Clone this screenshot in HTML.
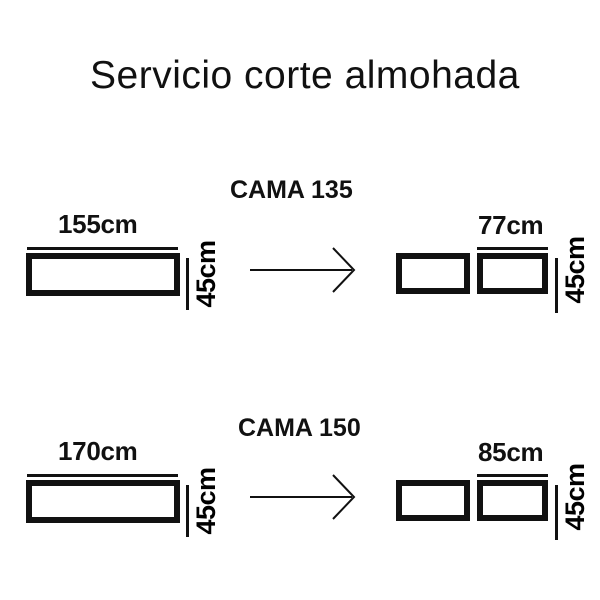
<!DOCTYPE html><html><head><style>
body{margin:0;width:600px;height:600px;background:#fff;position:relative;overflow:hidden;font-family:"Liberation Sans",sans-serif}
.t{position:absolute;white-space:nowrap}
.b{position:absolute;border:6px solid #111;box-sizing:border-box;background:#fff}
.l{position:absolute;background:#111}
.lbl{font-weight:bold;font-size:26px;color:#111;letter-spacing:-0.3px}
.v{position:absolute;font-weight:bold;font-size:27px;transform:rotate(-90deg);transform-origin:center;white-space:nowrap;text-align:center;letter-spacing:-0.5px}
</style></head><body>
<div class="t" style="left:90px;top:54px;font-size:39px;color:#111;letter-spacing:0.5px">Servicio corte almohada</div>

<div class="t lbl" style="left:230px;top:176px;font-size:25px;letter-spacing:0">CAMA 135</div>
<div class="t lbl" style="left:238px;top:414px;font-size:25px;letter-spacing:0">CAMA 150</div>

<div style="position:absolute;left:0;top:0;width:600px;height:300px">
<div class="t lbl" style="left:58px;top:209px">155cm</div>
<div class="l" style="left:27px;top:247px;width:151px;height:3px"></div>
<div class="b" style="left:26px;top:253px;width:154px;height:43px"></div>
<div class="l" style="left:186px;top:258px;width:3px;height:52px"></div>
<div class="v" style="left:166px;top:259px;width:80px;height:30px">45cm</div>
<div class="l" style="left:250px;top:269px;width:102px;height:2px"></div>
<svg style="position:absolute;left:330px;top:246px" width="28" height="50"><polyline points="3,2 24,24 3,46" fill="none" stroke="#111" stroke-width="2"/></svg>
<div class="b" style="left:396px;top:253px;width:74px;height:41px"></div>
<div class="b" style="left:477px;top:253px;width:71px;height:41px"></div>
<div class="t lbl" style="left:478px;top:210px">77cm</div>
<div class="l" style="left:477px;top:247px;width:71px;height:3px"></div>
<div class="l" style="left:555px;top:258px;width:3px;height:55px"></div>
<div class="v" style="left:535px;top:255px;width:80px;height:30px">45cm</div>
</div>
<div style="position:absolute;left:0;top:227px;width:600px;height:300px">
<div class="t lbl" style="left:58px;top:209px">170cm</div>
<div class="l" style="left:27px;top:247px;width:151px;height:3px"></div>
<div class="b" style="left:26px;top:253px;width:154px;height:43px"></div>
<div class="l" style="left:186px;top:258px;width:3px;height:52px"></div>
<div class="v" style="left:166px;top:259px;width:80px;height:30px">45cm</div>
<div class="l" style="left:250px;top:269px;width:102px;height:2px"></div>
<svg style="position:absolute;left:330px;top:246px" width="28" height="50"><polyline points="3,2 24,24 3,46" fill="none" stroke="#111" stroke-width="2"/></svg>
<div class="b" style="left:396px;top:253px;width:74px;height:41px"></div>
<div class="b" style="left:477px;top:253px;width:71px;height:41px"></div>
<div class="t lbl" style="left:478px;top:210px">85cm</div>
<div class="l" style="left:477px;top:247px;width:71px;height:3px"></div>
<div class="l" style="left:555px;top:258px;width:3px;height:55px"></div>
<div class="v" style="left:535px;top:255px;width:80px;height:30px">45cm</div>
</div>
</body></html>
